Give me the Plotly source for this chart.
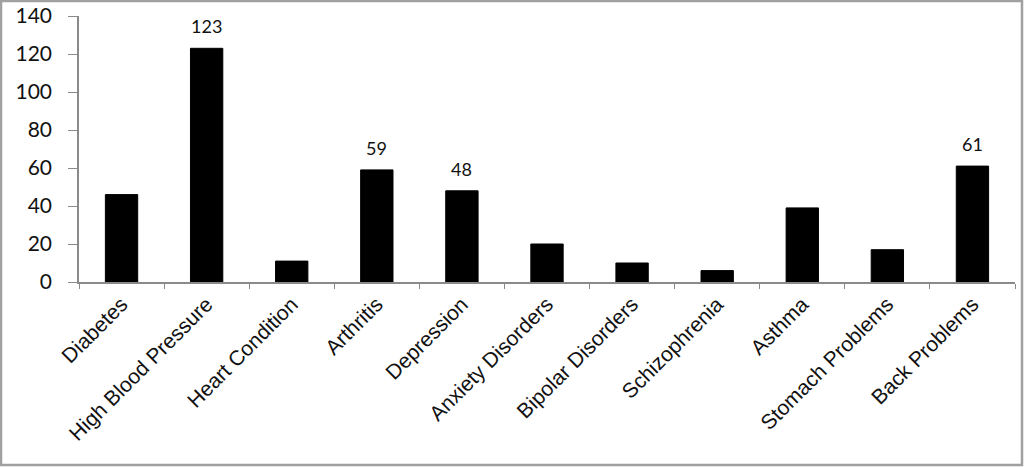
import plotly.graph_objects as go

categories = ["Diabetes", "High Blood Pressure", "Heart Condition", "Arthritis",
              "Depression", "Anxiety Disorders", "Bipolar Disorders", "Schizophrenia",
              "Asthma", "Stomach Problems", "Back Problems"]
values = [46, 123, 11, 59, 48, 20, 10, 6, 39, 17, 61]
labeled = ["High Blood Pressure", "Arthritis", "Depression", "Back Problems"]
y_ticks = [0, 20, 40, 60, 80, 100, 120, 140]

fig = go.Figure()
fig.add_trace(go.Bar(
    x=categories, y=values,
    marker=dict(color="#000000", line=dict(color="#000000", width=1)),
    hoverinfo="x+y",
))

for c, v in zip(categories, values):
    if c in labeled:
        fig.add_annotation(x=c, y=v, text=str(v), showarrow=False,
                           yanchor="bottom", yshift=9,
                           font=dict(family="Lato, Open Sans, sans-serif", size=18, color="#111111"))

fig.update_layout(
    width=1024, height=467,
    margin=dict(l=79, r=9, t=16, b=185),
    paper_bgcolor="white", plot_bgcolor="white",
    bargap=0.62,
    showlegend=False,
    xaxis=dict(
        type="category",
        automargin=False,
        tickangle=-45,
        tickson="boundaries",
        ticks="outside", ticklen=5, tickcolor="#8a8a8a", tickwidth=1,
        showline=True, linecolor="#8a8a8a", linewidth=1.5,
        showgrid=False,
        tickfont=dict(family="Liberation Sans, Arial, sans-serif", size=21, color="#111111"),
    ),
    yaxis=dict(
        range=[0, 140],
        automargin=False,
        tickvals=y_ticks,
        ticks="outside", ticklen=9, tickcolor="#8a8a8a", tickwidth=1,
        showline=True, linecolor="#8a8a8a", linewidth=1.5,
        showgrid=False, zeroline=False,
        ticklabelstandoff=12,
        tickfont=dict(family="Lato, Open Sans, sans-serif", size=21, color="#111111"),
    ),
    shapes=[dict(type="rect", xref="paper", yref="paper",
                 x0=(1 - 79) / 936, x1=(1022 - 79) / 936,
                 y0=-(465 - 282) / 266, y1=(282 - 1) / 266,
                 line=dict(color="#a0a0a0", width=2.5), fillcolor="rgba(0,0,0,0)",
                 layer="below")],
)

fig.write_html("out.html", config={"displayModeBar": False},
               post_script="document.body.style.margin='0px';document.body.style.overflow='hidden';")
